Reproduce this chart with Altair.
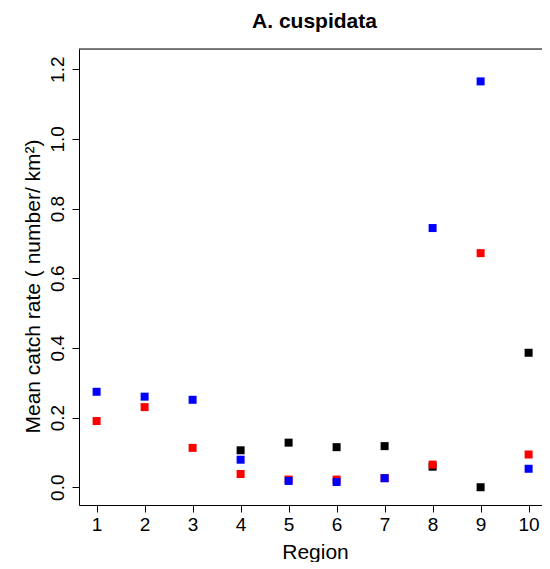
import altair as alt
import pandas as pd

regions = [1, 2, 3, 4, 5, 6, 7, 8, 9, 10]

# Values per series (None = no point visible)
black_vals = [None, None, None, 0.106, 0.128, 0.115, 0.118, 0.059, 0.000, 0.386]
red_vals = [0.190, 0.230, 0.113, 0.038, 0.022, 0.022, 0.026, 0.065, 0.672, 0.094]
blue_vals = [0.274, 0.260, 0.251, 0.079, 0.018, 0.015, 0.026, 0.744, 1.165, 0.053]

series_names = ["black", "red", "blue"]
series_colors = ["#000000", "#FF0000", "#0000FF"]

y_ticks = [0.0, 0.2, 0.4, 0.6, 0.8, 1.0, 1.2]

chart_title = ["A. cuspidata"]

rows = []
for si, (name, vals) in enumerate(zip(series_names, [black_vals, red_vals, blue_vals])):
    for r, v in zip(regions, vals):
        if v is not None:
            rows.append({"Region": r, "rate": v, "series": name, "ord": si})
df = pd.DataFrame(rows)

FONT = "Liberation Sans"
W = 463
H = 456

points = (
    alt.Chart(df)
    .mark_point(shape="square", filled=True, size=64, opacity=1, strokeWidth=0)
    .encode(
        x=alt.X(
            "Region:Q",
            scale=alt.Scale(domain=[0.633, 10.279], nice=False, zero=False),
            axis=alt.Axis(
                values=regions,
                format="d",
                title="Region",
                grid=False,
                domain=True,
                domainColor="black",
                domainWidth=1,
                tickSize=7,
                tickColor="black",
                labelPadding=3,
                labelFontSize=19,
                labelFont=FONT,
                labelColor="black",
                labelFlush=False,
                labelOverlap=False,
                labelAngle=0,
                titleFont=FONT,
                titleFontSize=21,
                titleFontWeight="normal",
                titleColor="black",
                titleBaseline="alphabetic",
                titleY=53,
                titleX=236,
                titleAlign="center",
            ),
        ),
        y=alt.Y(
            "rate:Q",
            scale=alt.Scale(domain=[-0.051, 1.258], nice=False, zero=False),
            axis=alt.Axis(
                values=y_ticks,
                format=".1f",
                title="Mean catch rate ( number/ km²)",
                grid=False,
                domain=True,
                domainColor="black",
                domainWidth=1,
                tickSize=7,
                tickColor="black",
                labelAngle=270,
                labelAlign="center",
                labelBaseline="alphabetic",
                labelPadding=9,
                labelFontSize=19,
                labelFont=FONT,
                labelColor="black",
                labelFlush=False,
                labelOverlap=False,
                titleFont=FONT,
                titleFontSize=21,
                titleFontWeight="normal",
                titleColor="black",
                titleAngle=270,
                titleBaseline="alphabetic",
                titleAlign="center",
                titleX=-40,
                titleY=237,
            ),
        ),
        color=alt.Color(
            "series:N",
            scale=alt.Scale(domain=series_names, range=series_colors),
            legend=None,
        ),
        order=alt.Order("ord:Q"),
    )
)

top_line = (
    alt.Chart(pd.DataFrame({"k": [0]}))
    .mark_rule(color="black", strokeWidth=1)
    .encode(x=alt.value(0), x2=alt.value(W), y=alt.value(0))
)

title_text = (
    alt.Chart(pd.DataFrame({"t": chart_title}))
    .mark_text(
        font=FONT,
        fontSize=21,
        fontWeight="bold",
        color="black",
        align="center",
        baseline="alphabetic",
    )
    .encode(text="t:N", x=alt.value(235.5), y=alt.value(-21))
)

chart = (
    alt.layer(points, top_line, title_text)
    .properties(
        width=W,
        height=H,
        autosize=alt.AutoSizeParams(type="none"),
        padding={"left": 71, "top": 41, "right": 0, "bottom": 57},
    )
    .configure_view(stroke=None)
    .configure(background="white")
)

chart.save("out.html", embed_options={"renderer": "svg", "actions": False})
